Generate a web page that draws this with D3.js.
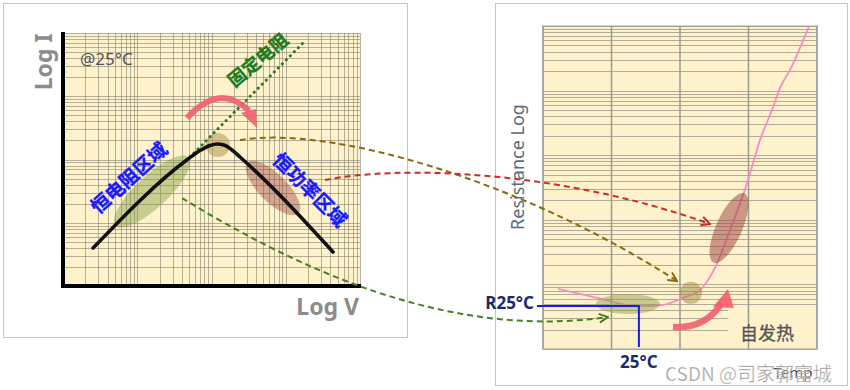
<!DOCTYPE html>
<html>
<head>
<meta charset="utf-8">
<script src="https://cdn.jsdelivr.net/npm/d3@7"></script>
<style>
  body { margin: 0; background: #fff; }
  svg { display: block; }
</style>
</head>
<body>
<div id="chart"></div>
<script>
// I-V curve of the PTC thermistor (log V, log I)
var ivVolt = [2.54, 48.3, 70.0, 95.5, 118.6, 147.3, 188.8, 242, 4330];
var ivCurr = [3.99, 101.8, 138.8, 166.5, 175.8, 169.5, 141.3, 109.6, 3.45];

// fixed resistor reference line
var fixedVolt = [51.3, 1708];
var fixedCurr = [109.6, 6950];

// marked zones on the I-V chart: constant R, transition, constant power
var ivZoneVolt = [15.8, 122, 673];
var ivZoneCurr = [31, 170, 35.4];

// R-T curve (temperature, log resistance)
var rtTemp = [-34, -5.6, 23.6, 41.9, 57.2, 69.6, 82, 91.5, 104, 113.4, 123, 128, 135.3, 149.2];
var rtRes = [8.5, 6.2, 4.6, 4.8, 6.2, 8.2, 21, 69, 370, 1720, 5570, 11000, 20900, 100000];
var tempTicks = [-45, 5, 55, 105, 155];

// same zones on the R-T chart
var rtZoneTemp = [17, 63, 90.8];
var rtZoneRes = [4.97, 7.4, 74.6];

// reference point
var refTemp = 25;
var refRes = 4.65;

var svg = d3.select("#chart")
  .append("svg")
  .attr("width", 850)
  .attr("height", 390);

var cream = "#fdf2cc";
var cjk = "'Noto Sans CJK SC', 'Noto Sans', sans-serif";
var latin = "'Noto Sans', 'Open Sans', sans-serif";

// scales
var xL = d3.scaleLog().domain([1, 1e4]).range([63, 360]);
var yL = d3.scaleLog().domain([1, 1e4]).range([286, 33]);
var xR = d3.scaleLinear().domain([-45, 155]).range([543, 817]);
var yR = d3.scaleLog().domain([1, 1e5]).range([349, 26]);

// arrow markers
var defs = svg.append("defs");
function marker(id, color) {
  defs.append("marker")
    .attr("id", id)
    .attr("viewBox", "0 0 10 10")
    .attr("refX", 9).attr("refY", 5)
    .attr("markerWidth", 11).attr("markerHeight", 11)
    .attr("markerUnits", "userSpaceOnUse")
    .attr("orient", "auto")
    .append("path")
    .attr("d", "M1,1 L9,5 L1,9")
    .attr("fill", "none")
    .attr("stroke", color)
    .attr("stroke-width", 1.8);
}
marker("mBrown", "#8a6a0e");
marker("mRed", "#cf2b2b");
marker("mGreen", "#4a7d20");

// panel frames
svg.append("rect").attr("x", 3.5).attr("y", 3.5).attr("width", 404).attr("height", 334)
  .attr("fill", "#fff").attr("stroke", "#c4c4c4");
svg.append("rect").attr("x", 495.5).attr("y", 3.5).attr("width", 352).attr("height", 382)
  .attr("fill", "#fff").attr("stroke", "#c4c4c4");

// ---------- left chart: log I vs log V ----------
var left = svg.append("g");
left.append("rect")
  .attr("x", xL.range()[0]).attr("y", yL.range()[1])
  .attr("width", xL.range()[1] - xL.range()[0])
  .attr("height", yL.range()[0] - yL.range()[1])
  .attr("fill", cream);

left.append("g").selectAll("line")
  .data(xL.ticks())
  .enter().append("line")
  .attr("x1", function (d) { return Math.round(xL(d)) + 0.5; })
  .attr("x2", function (d) { return Math.round(xL(d)) + 0.5; })
  .attr("y1", yL.range()[1]).attr("y2", yL.range()[0])
  .attr("stroke", "#86826f").attr("stroke-opacity", 0.6);

left.append("g").selectAll("line")
  .data(yL.ticks())
  .enter().append("line")
  .attr("y1", function (d) { return Math.round(yL(d)) + 0.5; })
  .attr("y2", function (d) { return Math.round(yL(d)) + 0.5; })
  .attr("x1", xL.range()[0]).attr("x2", xL.range()[1])
  .attr("stroke", "#86826f").attr("stroke-opacity", 0.6);

// zones
var ivZoneShape = [
  { rx: 50, ry: 16, rot: -43, fill: "#7f9a3c", op: 0.42 },
  { rx: 12, ry: 12, rot: 0, fill: "#b39650", op: 0.55 },
  { rx: 36, ry: 14, rot: 45, fill: "#9b3b3b", op: 0.42 }
];
ivZoneVolt.forEach(function (v, k) {
  var s = ivZoneShape[k];
  left.append("ellipse")
    .attr("transform", "translate(" + xL(v) + "," + yL(ivZoneCurr[k]) + ") rotate(" + s.rot + ")")
    .attr("rx", s.rx).attr("ry", s.ry)
    .attr("fill", s.fill).attr("fill-opacity", s.op);
});

// fixed resistor dotted line
left.append("path")
  .datum(d3.zip(fixedVolt, fixedCurr))
  .attr("fill", "none")
  .attr("stroke", "#2f7a1f")
  .attr("stroke-width", 3)
  .attr("stroke-linecap", "round")
  .attr("stroke-dasharray", "0.1 5.6")
  .attr("d", d3.line()
    .x(function (d) { return xL(d[0]); })
    .y(function (d) { return yL(d[1]); }));

// I-V curve
left.append("path")
  .datum(d3.zip(ivVolt, ivCurr))
  .attr("fill", "none")
  .attr("stroke", "#111")
  .attr("stroke-width", 3.6)
  .attr("stroke-linecap", "round")
  .attr("d", d3.line()
    .curve(d3.curveMonotoneX)
    .x(function (d) { return xL(d[0]); })
    .y(function (d) { return yL(d[1]); }));

// axes
left.append("line").attr("x1", 63).attr("x2", 63).attr("y1", 32).attr("y2", 288)
  .attr("stroke", "#000").attr("stroke-width", 4);
left.append("line").attr("x1", 61).attr("x2", 361).attr("y1", 286).attr("y2", 286)
  .attr("stroke", "#000").attr("stroke-width", 4);

// red curved arrow over the peak
var la0 = [xL(46.8), yL(453)], la1 = [xL(410), yL(315)];
left.append("path")
  .attr("d", "M" + la0[0] + "," + la0[1] + " Q" + (la0[0] + 33) + "," + (la0[1] - 36) + " " + (la1[0] - 8) + "," + (la1[1] - 17))
  .attr("fill", "none").attr("stroke", "#ef5f70").attr("stroke-width", 6).attr("stroke-opacity", 0.9);
left.append("path")
  .attr("d", "M" + (la1[0] - 16) + "," + (la1[1] - 15) + " L" + (la1[0] - 1) + "," + (la1[1] - 19) + " L" + la1[0] + "," + la1[1] + "Z")
  .attr("fill", "#ef5f70").attr("fill-opacity", 0.9);

// labels
left.append("text")
  .attr("x", 80).attr("y", 65)
  .style("font-family", latin).style("font-size", "17px").attr("fill", "#555")
  .text("@25°C");

left.append("text")
  .attr("transform", "translate(52,62) rotate(-90)")
  .style("font-family", latin).style("font-size", "23px").style("font-weight", "bold")
  .attr("fill", "#8c8c8c").style("text-anchor", "middle")
  .text("Log I");

left.append("text")
  .attr("x", 359).attr("y", 315)
  .style("font-family", latin).style("font-size", "23px").style("font-weight", "bold")
  .attr("fill", "#8c8c8c").style("text-anchor", "end")
  .text("Log V");

function rotText(g, cx, cy, ang, txt, color, size) {
  g.append("text")
    .attr("transform", "translate(" + cx + "," + cy + ") rotate(" + ang + ")")
    .attr("dy", "0.36em")
    .style("font-family", cjk).style("font-size", size + "px").style("font-weight", "bold")
    .attr("fill", color).attr("stroke", color).attr("stroke-width", 0.35)
    .style("text-anchor", "middle")
    .text(txt);
}
rotText(left, 258, 60, -40, "固定电阻", "#1e7b1e", 18);
rotText(left, 129, 178, -42, "恒电阻区域", "#1a1aff", 19);
rotText(left, 310, 190, 45, "恒功率区域", "#1a1aff", 19);

// ---------- right chart: log R vs temperature ----------
var right = svg.append("g");
right.append("rect")
  .attr("x", xR.range()[0]).attr("y", yR.range()[1])
  .attr("width", xR.range()[1] - xR.range()[0])
  .attr("height", yR.range()[0] - yR.range()[1])
  .attr("fill", cream);

right.append("g").selectAll("line")
  .data(yR.ticks())
  .enter().append("line")
  .attr("y1", function (d) { return Math.round(yR(d)) + 0.5; })
  .attr("y2", function (d) { return Math.round(yR(d)) + 0.5; })
  .attr("x1", xR.range()[0]).attr("x2", xR.range()[1])
  .attr("stroke", "#9c998a").attr("stroke-opacity", 0.8);

// blank box behind the self-heating label
right.append("rect")
  .attr("x", 728).attr("y", 310).attr("width", 88).attr("height", 38)
  .attr("fill", cream);

right.append("g").selectAll("line")
  .data(tempTicks)
  .enter().append("line")
  .attr("x1", function (d) { return xR(d); })
  .attr("x2", function (d) { return xR(d); })
  .attr("y1", yR.range()[1]).attr("y2", yR.range()[0])
  .attr("stroke", "#9a9a90").attr("stroke-width", 1.5);

right.append("rect")
  .attr("x", xR.range()[0]).attr("y", yR.range()[1])
  .attr("width", xR.range()[1] - xR.range()[0])
  .attr("height", yR.range()[0] - yR.range()[1])
  .attr("fill", "none").attr("stroke", "#a0a0a0");

// R-T curve
right.append("path")
  .datum(d3.zip(rtTemp, rtRes))
  .attr("fill", "none")
  .attr("stroke", "#f78cc4")
  .attr("stroke-width", 1.8)
  .attr("d", d3.line()
    .curve(d3.curveMonotoneX)
    .x(function (d) { return xR(d[0]); })
    .y(function (d) { return yR(d[1]); }));

var rtZoneShape = [
  { rx: 32, ry: 10, rot: 0, fill: "#8a9a4a", op: 0.45 },
  { rx: 11, ry: 11, rot: 0, fill: "#a08a40", op: 0.5 },
  { rx: 38, ry: 13, rot: -66, fill: "#9b3b3b", op: 0.5 }
];
rtZoneTemp.forEach(function (t, k) {
  var s = rtZoneShape[k];
  right.append("ellipse")
    .attr("transform", "translate(" + xR(t) + "," + yR(rtZoneRes[k]) + ") rotate(" + s.rot + ")")
    .attr("rx", s.rx).attr("ry", s.ry)
    .attr("fill", s.fill).attr("fill-opacity", s.op);
});

// reference guide lines R25 / 25°C
right.append("path")
  .attr("d", "M537," + yR(refRes) + " H" + xR(refTemp) + " V347")
  .attr("fill", "none").attr("stroke", "#1a1aee").attr("stroke-width", 2);

right.append("text")
  .attr("x", 534).attr("y", yR(refRes) + 3)
  .style("font-family", latin).style("font-size", "17px").style("font-weight", "bold")
  .attr("fill", "#1b2a6b").style("text-anchor", "end")
  .text("R25°C");
right.append("text")
  .attr("x", xR(refTemp)).attr("y", 368)
  .style("font-family", latin).style("font-size", "17px").style("font-weight", "bold")
  .attr("fill", "#1b2a6b").style("text-anchor", "middle")
  .text("25°C");

right.append("text")
  .attr("transform", "translate(524,167) rotate(-90)")
  .style("font-family", latin).style("font-size", "18px")
  .attr("fill", "#5b6b7c").style("text-anchor", "middle")
  .text("Resistance Log");

// self heating arrow
var ra0 = [xR(49.9), yR(2.19)], ra1 = [xR(90), yR(8.5)];
right.append("path")
  .attr("d", "M" + ra0[0] + "," + ra0[1] + " Q" + (ra0[0] + 32) + "," + (ra0[1] + 2) + " " + (ra1[0] - 6) + "," + (ra1[1] + 14))
  .attr("fill", "none").attr("stroke", "#ef5f70").attr("stroke-width", 6.5).attr("stroke-opacity", 0.9);
right.append("path")
  .attr("d", "M" + (ra1[0] - 15) + "," + (ra1[1] + 18) + " L" + (ra1[0] + 6) + "," + (ra1[1] + 19) + " L" + ra1[0] + "," + ra1[1] + "Z")
  .attr("fill", "#ef5f70").attr("fill-opacity", 0.9);

right.append("text")
  .attr("x", 767).attr("y", 340)
  .style("font-family", cjk).style("font-size", "18px")
  .attr("fill", "#555").attr("stroke", "#555").attr("stroke-width", 0.3)
  .style("text-anchor", "middle")
  .text("自发热");

// axis title, mostly hidden by the watermark in the picture
right.append("text")
  .attr("x", 793).attr("y", 378)
  .style("font-family", latin).style("font-size", "15px")
  .attr("fill", "#444").style("text-anchor", "middle")
  .text("Temp");

// ---------- dashed links between the two charts ----------
var links = [
  { from: [242, 203], to: [52.8, 11.3], c1: [90, -15], c2: [-157, -101], color: "#8a6a0e", m: "mBrown" },
  { from: [3380, 47.4], to: [76.9, 86], c1: [75, -15], c2: [-150, -54], color: "#cf2b2b", m: "mRed" },
  { from: [40.1, 24.6], to: [2.4, 3.13], c1: [118, 72], c2: [-158, 23], color: "#4a7d20", m: "mGreen" }
];
links.forEach(function (l) {
  var p0 = [xL(l.from[0]), yL(l.from[1])];
  var p3 = [xR(l.to[0]), yR(l.to[1])];
  var path = d3.path();
  path.moveTo(p0[0], p0[1]);
  path.bezierCurveTo(p0[0] + l.c1[0], p0[1] + l.c1[1], p3[0] + l.c2[0], p3[1] + l.c2[1], p3[0], p3[1]);
  svg.append("path")
    .attr("d", path.toString())
    .attr("fill", "none")
    .attr("stroke", l.color)
    .attr("stroke-width", 2)
    .attr("stroke-dasharray", "6 4")
    .attr("marker-end", "url(#" + l.m + ")");
});

// watermark
svg.append("text")
  .attr("x", 665).attr("y", 381)
  .style("font-family", cjk).style("font-size", "19px")
  .attr("fill", "#8a8a8a").attr("fill-opacity", 0.85)
  .attr("stroke", "#fff").attr("stroke-width", 0.6).attr("stroke-opacity", 0.6)
  .text("CSDN @司家郭富城");
</script>
</body>
</html>
